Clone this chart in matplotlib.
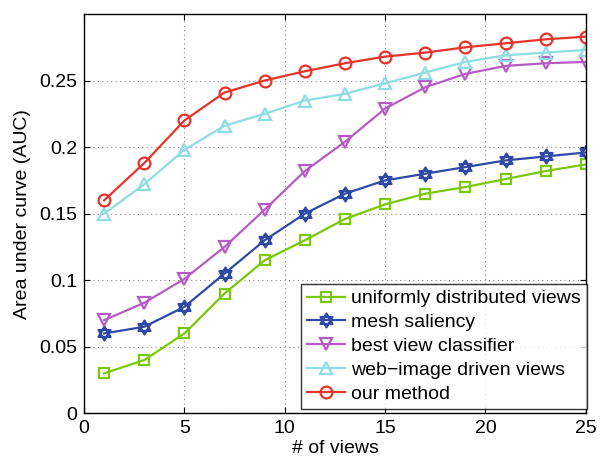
import numpy as np
import matplotlib
matplotlib.use("Agg")
import matplotlib.pyplot as plt
from matplotlib.path import Path

plt.rcParams['font.family'] = ['Liberation Sans', 'DejaVu Sans']

views = [1, 3, 5, 7, 9, 11, 13, 15, 17, 19, 21, 23, 25]
uniform = [0.030, 0.040, 0.060, 0.090, 0.115, 0.130, 0.146, 0.157, 0.165, 0.170, 0.176, 0.182, 0.187]
saliency = [0.060, 0.065, 0.080, 0.105, 0.130, 0.150, 0.165, 0.175, 0.180, 0.185, 0.190, 0.193, 0.196]
classifier = [0.070, 0.083, 0.101, 0.125, 0.153, 0.182, 0.204, 0.229, 0.245, 0.255, 0.261, 0.263, 0.264]
webimage = [0.150, 0.172, 0.198, 0.216, 0.225, 0.235, 0.240, 0.248, 0.256, 0.264, 0.269, 0.271, 0.273]
ours = [0.160, 0.188, 0.220, 0.241, 0.250, 0.257, 0.263, 0.268, 0.271, 0.275, 0.278, 0.281, 0.283]

labels = ["uniformly distributed views", "mesh saliency", "best view classifier",
          "web\u2212image driven views", "our method"]
xticks = [0, 5, 10, 15, 20, 25]
yticks = [0, 0.05, 0.1, 0.15, 0.2, 0.25]
ytick_labels = ["0", "0.05", "0.1", "0.15", "0.2", "0.25"]

# hexagram (star of david) marker: two overlapping triangles
a = np.pi / 2 + np.arange(3) * 2 * np.pi / 3
up = np.column_stack([np.cos(a), np.sin(a)])
down = -up
verts = np.vstack([up, up[:1], down, down[:1]])
codes = [Path.MOVETO, Path.LINETO, Path.LINETO, Path.CLOSEPOLY] * 2
hexagram = Path(verts, codes)

series = [
    (uniform, "#7ac70c", "s", 7),
    (saliency, "#2f4aa5", hexagram, 10),
    (classifier, "#b55cc4", "v", 9),
    (webimage, "#8fdce4", "^", 9),
    (ours, "#e5352a", "o", 8.5),
]

fig = plt.figure(figsize=(6.12, 4.67), dpi=100)
ax = fig.add_axes([0.1373, 0.115, 0.82, 0.855])

for (vals, col, mk, ms), lab in zip(series, labels):
    ax.plot(views, vals, color=col, marker=mk, markersize=ms, markerfacecolor="none",
            markeredgecolor=col, markeredgewidth=1.6, linewidth=1.6, label=lab)

ax.set_xlim(0, 25)
ax.set_ylim(0, 0.3)
ax.set_xticks(xticks)
ax.set_yticks(yticks)
ax.set_yticklabels(ytick_labels)
ax.tick_params(direction="in", top=True, right=True, labelsize=14, length=4, pad=5)
ax.grid(True, linestyle=(0, (1, 3)), color="#888888", linewidth=0.8)
for s in ax.spines.values():
    s.set_linewidth(1.0)

ax.set_xlabel("# of views", fontsize=14, labelpad=2)
ax.set_ylabel("Area under curve (AUC)", fontsize=14, labelpad=6)

leg = ax.legend(loc="lower right", bbox_to_anchor=(1.002, 0.012), fontsize=14,
                frameon=True, fancybox=False, edgecolor="black", borderaxespad=0,
                handlelength=2.0, handletextpad=0.3, labelspacing=0.32, borderpad=0.3)
leg.get_frame().set_linewidth(1.0)

plt.savefig("out.png", dpi=100)
